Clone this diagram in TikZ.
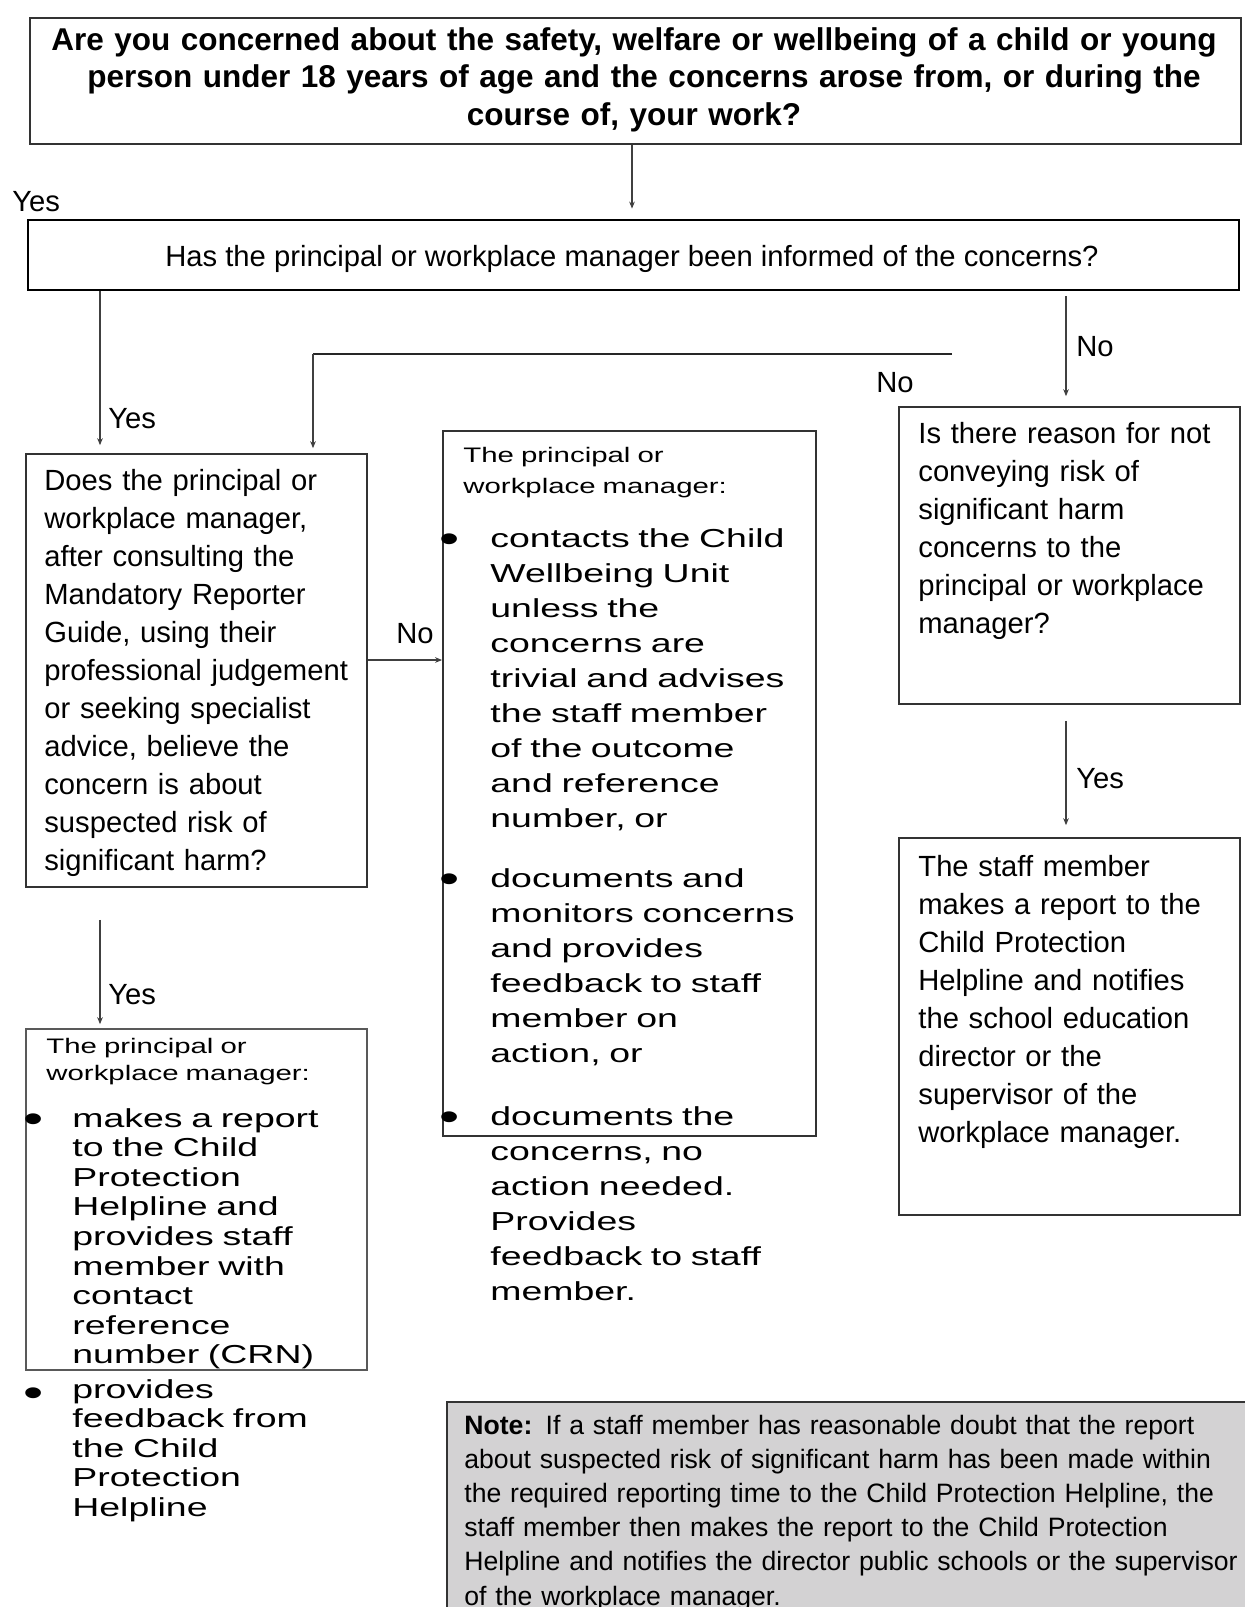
\documentclass[tikz,border=0pt]{standalone}
\usepackage{fontspec}
\setmainfont{Liberation Sans}
\newfontfamily\widefont[FakeStretch=1.44]{Liberation Sans}
\newfontfamily\hdrfont[FakeStretch=1.4]{Liberation Sans}
\usetikzlibrary{arrows.meta,fit}

\definecolor{notegray}{HTML}{D3D2D3}
\newcommand\bodysize{\fontsize{14.6}{19}\selectfont}
\newcommand\headsize{\fontsize{15.75}{18.75}\selectfont\bfseries}
\newcommand\notesize{\fontsize{13.3}{17.1}\selectfont}
\newcommand\widesize{\widefont\fontsize{13}{17.5}\selectfont}
\newcommand\widesmall{\widefont\fontsize{13}{14.8}\selectfont}
\newcommand\hdrsize{\hdrfont\fontsize{10.5}{15.5}\selectfont}
\newcommand\hdrsmall{\hdrfont\fontsize{10.5}{13.5}\selectfont}
\newcommand\bulsize{\widefont\fontsize{20}{20}\selectfont}

\tikzset{
  box/.style={draw=black!80,line width=0.8pt,inner sep=0pt},
  arr/.style={draw=black!75,line width=0.6pt,-{Stealth[length=3.5pt,width=2.8pt]}},
  txt/.style={anchor=base west,inner sep=0pt,text width=300pt,align=left},
  lbl/.style={anchor=base west,inner sep=0pt,font=\bodysize}
}

\begin{document}
\begin{tikzpicture}[x=0.5pt,y=-0.5pt]
\useasboundingbox (0,0) rectangle (1244,1607);

\node[box,fit={(30,18) (1241,144)},line width=1pt] (q1) {};
\node[box,fit={(28,220) (1239,290)},line width=1.4pt,draw=black] (q2) {};
\node[box,fit={(26,454) (367,887)}] (q3) {};
\node[box,fit={(899,407) (1240,704)}] (q4) {};
\node[box,fit={(443,431) (816,1136)},line width=0.9pt] (act1) {};
\node[box,fit={(26,1029) (367,1370)},draw=black!65] (act2) {};
\node[box,fit={(899,838) (1240,1215)}] (act3) {};
\node[box,fit={(447,1402) (1260,1625)},fill=notegray] (note) {};

\node[anchor=base,inner sep=0pt,text width=600pt,align=center,font=\headsize] (q1t) at (634,50)
  {Are you concerned about the safety, welfare or wellbeing of a child or young\\
   \hspace*{10pt}person under 18 years of age and the concerns arose from, or during the\\
   course of, your work?};
\node[anchor=base,inner sep=0pt,font=\bodysize] (q2t) at (632,266)
  {Has the principal or workplace manager been informed of the concerns?};
\node[txt,font=\bodysize] (q3t) at (44,490)
  {Does the principal or\\workplace manager,\\after consulting the\\Mandatory Reporter\\
   Guide, using their\\professional judgement\\or seeking specialist\\advice, believe the\\
   concern is about\\suspected risk of\\significant harm?};
\node[txt,font=\bodysize] (q4t) at (918,443)
  {Is there reason for not\\conveying risk of\\significant harm\\concerns to the\\
   principal or workplace\\manager?};
\node[txt,font=\bodysize] (act3t) at (918,876)
  {The staff member\\makes a report to the\\Child Protection\\Helpline and notifies\\
   the school education\\director or the\\supervisor of the\\workplace manager.};

\node[txt,font=\hdrsize] (act1h) at (463,462) {The principal or\\workplace manager:};
\node[txt,font=\widesize] (act1a) at (490,547)
  {contacts the Child\\Wellbeing Unit\\unless the\\concerns are\\trivial and advises\\
   the staff member\\of the outcome\\and reference\\number, or};
\node[txt,font=\widesize] (act1b) at (490,887)
  {documents and\\monitors concerns\\and provides\\feedback to staff\\member on\\action, or};
\node[txt,font=\widesize] (act1c) at (490,1125)
  {documents the\\concerns, no\\action needed.\\Provides\\feedback to staff\\member.};

\node[txt,font=\hdrsmall] (act2h) at (46,1053) {The principal or\\workplace manager:};
\node[txt,font=\widesmall] (act2a) at (72,1127)
  {makes a report\\to the Child\\Protection\\Helpline and\\provides staff\\member with\\
   contact\\reference\\number (CRN)};
\node[txt,font=\widesmall] (act2b) at (72,1398)
  {provides\\feedback from\\the Child\\Protection\\Helpline};

\node[txt,text width=420pt,font=\notesize] (notet) at (464,1434)
  {\textbf{Note:} If a staff member has reasonable doubt that the report\\
   about suspected risk of significant harm has been made within\\
   the required reporting time to the Child Protection Helpline, the\\
   staff member then makes the report to the Child Protection\\
   Helpline and notifies the director public schools or the supervisor\\
   of the workplace manager.};

\foreach \nm/\x/\y in {d1/439/552, d2/439/892, d3/439/1130, d4/23/1132, d5/23/1406}
  \node[lbl,font=\bulsize] (\nm) at (\x,\y) {•};

\foreach \nm/\x/\y/\t in {ya/12/211/Yes, yb/108/428/Yes, na/1076/356/No, nb/876/392/No,
                          nc/396/643/No, yc/1076/788/Yes, yd/108/1004/Yes}
  \node[lbl] (\nm) at (\x,\y) {\t};

\coordinate (nofrom) at (952,354);
\coordinate (nobend) at (313,354);
\draw[arr,shorten >=5pt] (q1.south -| 632,0) -- (q2.north -| 632,0);
\draw[arr,shorten >=4pt] (q2.south -| 100,0) -- (q3.north -| 100,0);
\draw[arr,shorten <=2.5pt,shorten >=5pt] (q2.south -| 1066,0) -- (q4.north -| 1066,0);
\draw[line width=1pt,black!85] (nofrom) -- (nobend);
\draw[arr,shorten >=2.5pt] (nobend) -- (q3.north -| nobend);
\draw[arr] (q3.east |- 0,660) -- (act1.west |- 0,660);
\draw[arr,shorten <=8pt,shorten >=6pt] (q4.south -| 1066,0) -- (act3.north -| 1066,0);
\draw[arr,shorten <=16pt,shorten >=2pt] (q3.south -| 100,0) -- (act2.north -| 100,0);
\end{tikzpicture}
\end{document}
